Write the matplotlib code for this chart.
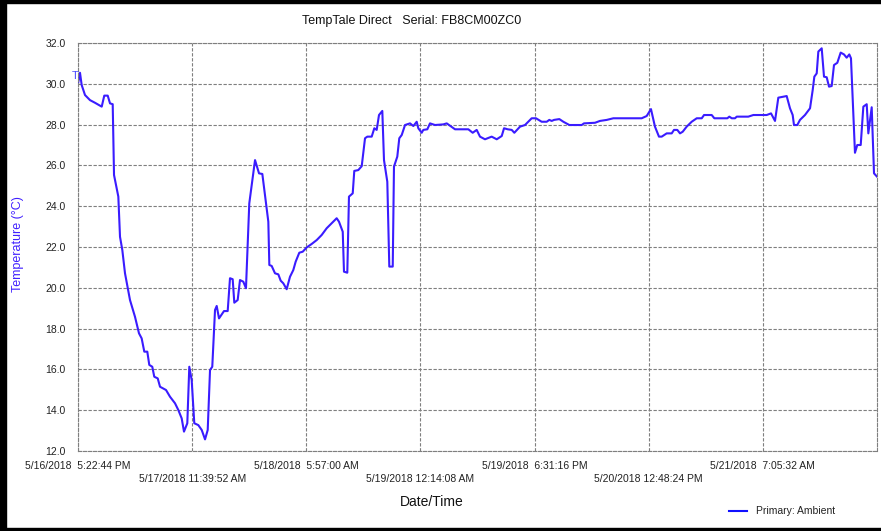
import matplotlib
matplotlib.use("Agg")
import matplotlib.pyplot as plt
import pandas as pd
from matplotlib.patches import Rectangle

plt.rcParams['font.family'] = ['Liberation Sans', 'DejaVu Sans']

# hours since the first reading (5/16/2018 5:22:44 PM)
hours = [0.0, 0.32, 0.59, 1.12, 1.92, 2.72, 3.80, 4.21, 4.76, 5.13, 5.56, 5.77, 6.46, 6.73,
         7.10, 7.53, 8.33, 9.13, 9.77, 10.20, 10.62, 11.10, 11.42, 11.90, 12.22, 12.77, 13.14,
         14.10, 14.74, 15.54, 16.07, 16.61, 16.98, 17.51, 17.83, 18.21, 18.63, 19.27, 19.82,
         20.35, 20.78, 21.15, 21.51, 21.95, 22.22, 22.59, 23.39, 23.98, 24.35, 24.78, 25.04,
         25.58, 25.95, 26.48, 26.91, 27.44, 28.36, 29.00, 29.53, 30.49, 30.65, 31.03, 31.56,
         32.09, 32.47, 32.89, 33.43, 33.96, 34.49, 34.87, 35.45, 36.00, 36.64, 37.44, 38.24,
         39.04, 39.84, 41.44, 41.81, 42.41, 42.61, 43.14, 43.41, 44.01, 44.26, 44.90, 45.45,
         45.98, 46.35, 47.05, 47.47, 47.85, 48.22, 48.75, 49.02, 49.55, 49.87, 50.42, 50.62,
         51.15, 51.47, 51.86, 52.39, 53.19, 53.72, 54.26, 54.52, 55.06, 55.32, 55.96, 56.39,
         57.19, 58.52, 59.07, 60.40, 62.53, 63.23, 63.87, 64.40, 65.20, 66.27, 67.08, 67.88,
         68.25, 68.84, 69.48, 69.90, 70.81, 71.61, 72.68, 73.37, 74.28, 75.09, 75.50, 75.89,
         76.26, 77.11, 77.75, 78.71, 80.69, 81.06, 82.82, 83.62, 84.70, 85.76, 90.30, 91.10,
         91.79, 92.43, 93.07, 93.51, 94.31, 95.11, 95.48, 96.01, 96.44, 96.87, 97.51, 98.31,
         99.12, 99.92, 100.29, 101.52, 101.94, 104.02, 104.34, 104.73, 105.25, 105.53, 107.38,
         108.19, 110.33, 111.02, 111.66, 112.19, 112.99, 113.53, 114.06, 114.49, 114.70,
         115.23, 115.66, 116.46, 117.27, 117.70, 117.96, 118.34, 118.60, 119.14, 119.51,
         119.94, 120.31, 120.74, 121.11, 121.64, 122.18, 122.71, 123.14, 123.56, 123.83,
         124.47, 124.84, 125.39, 125.81, 126.35, 126.61, 127.15, 127.52, 128.0]
temps = [30.0, 30.54, 29.94, 29.45, 29.2, 29.07, 28.88, 29.42, 29.42, 29.04, 29.0, 25.53, 24.47, 22.5,
         21.85, 20.71, 19.4, 18.58, 17.77, 17.52, 16.87, 16.87, 16.22, 16.13, 15.64, 15.56, 15.15,
         14.99, 14.66, 14.34, 14.01, 13.6, 12.95, 13.36, 16.13, 15.48, 13.36, 13.27, 13.03,
         12.57, 13.03, 15.97, 16.13, 18.91, 19.11, 18.5, 18.86, 18.86, 20.47, 20.42, 19.27,
         19.4, 20.38, 20.3, 19.98, 24.14, 26.26, 25.61, 25.58, 23.24, 21.12, 21.07, 20.71,
         20.66, 20.35, 20.22, 19.93, 20.54, 20.87, 21.28, 21.72, 21.77, 21.98, 22.15, 22.34,
         22.59, 22.92, 23.41, 23.24, 22.75, 20.79, 20.74, 24.47, 24.63, 25.73, 25.77, 25.96,
         27.33, 27.41, 27.41, 27.82, 27.74, 28.47, 28.67, 26.26, 25.2, 21.04, 21.04, 25.94,
         26.43, 27.33, 27.49, 27.98, 28.06, 27.93, 28.14, 27.82, 27.6, 27.74, 27.77, 28.06,
         27.98, 28.01, 28.06, 27.77, 27.77, 27.6, 27.74, 27.41, 27.28, 27.41, 27.28, 27.44,
         27.82, 27.77, 27.74, 27.6, 27.9, 27.98, 28.31, 28.31, 28.14, 28.14, 28.23, 28.18,
         28.23, 28.27, 28.14, 27.98, 27.98, 28.06, 28.09, 28.18, 28.23, 28.31, 28.31, 28.42,
         28.76, 27.9, 27.41, 27.41, 27.57, 27.57, 27.74, 27.74, 27.57, 27.65, 27.9, 28.14,
         28.31, 28.31, 28.47, 28.47, 28.31, 28.31, 28.39, 28.31, 28.31, 28.39, 28.39,
         28.47, 28.47, 28.55, 28.18, 29.32, 29.37, 29.4, 28.8, 28.47, 27.98,
         27.98, 28.23, 28.47, 28.8, 29.7, 30.35, 30.51, 31.58, 31.74, 30.35,
         30.32, 29.86, 29.89, 30.92, 31.03, 31.53, 31.44, 31.28, 31.44, 31.25,
         26.62, 27.0, 27.0, 28.88, 29.0, 27.57, 28.85, 25.61, 25.45]

start = pd.Timestamp("2018-05-16 17:22:44")
step = pd.Timedelta(hours=18, minutes=17, seconds=8)
n_steps = 7
title = "TempTale Direct   Serial: FB8CM00ZC0"
series_name = "Primary: Ambient"

times = [start + pd.Timedelta(hours=h) for h in hours]
ticks = [start + i * step for i in range(n_steps + 1)]


def fmt(t, i):
    hr = t.hour % 12 or 12
    ap = "AM" if t.hour < 12 else "PM"
    s = f"{t.month}/{t.day}/{t.year} {hr:>2}:{t.minute:02d}:{t.second:02d} {ap}"
    s = s.replace("  ", "  ")
    # every second label sits one row lower
    return s if i % 2 == 0 else "\n" + s


fig = plt.figure(figsize=(8.81, 5.31), dpi=100)
ax = fig.add_axes([78 / 881, 1 - 451 / 531, 799 / 881, 408 / 531])

line_col = '#3a1cff'
ax.plot(times, temps, color=line_col, lw=1.5, solid_joinstyle='round')

ax.set_xlim(ticks[0], ticks[-1])
ax.set_ylim(12, 32)
ax.set_yticks([12 + 2 * i for i in range(11)])
ax.yaxis.set_major_formatter(plt.FormatStrFormatter('%.1f'))
ax.set_xticks(ticks[:-1])
ax.set_xticklabels([fmt(t, i) for i, t in enumerate(ticks[:-1])], fontsize=7.5,
                   color='#222222', linespacing=1.35)
ax.tick_params(axis='y', labelsize=7.5, labelcolor='#222222', length=0, pad=9)
ax.tick_params(axis='x', length=0, pad=7)

ax.grid(True, color='#7f7f7f', ls=(0, (3, 1.5)), lw=0.8)
for sp in ax.spines.values():
    sp.set_color('#7f7f7f')
    sp.set_linestyle((0, (3, 1.5)))
    sp.set_linewidth(0.8)

ax.text(times[0], temps[0] + 0.15, "T", fontsize=8, color='#4a4aff', ha='right', va='bottom')

fig.text(412 / 881, 1 - 21 / 531, title, fontsize=9, ha='center', va='center', color='#111111')
fig.text(18 / 881, 1 - 244 / 531, "Temperature (°C)", fontsize=9, rotation=90,
         ha='center', va='center', color='#4020ff')
fig.text(432 / 881, 1 - 502 / 531, "Date/Time", fontsize=10, ha='center', va='center', color='#111111')

# legend at the bottom right
fig.add_artist(plt.Line2D([729 / 881, 747 / 881], [1 - 511 / 531] * 2, color='#1010ff', lw=1.5))
fig.text(756 / 881, 1 - 511 / 531, series_name, fontsize=7.5, ha='left', va='center', color='#222222')

# black frame of the screenshot
fig.add_artist(Rectangle((0, 0), 6 / 881, 1, transform=fig.transFigure, color='black'))
fig.add_artist(Rectangle((0, 1 - 3 / 531), 1, 3 / 531, transform=fig.transFigure, color='black'))
fig.add_artist(Rectangle((0, 0), 1, 3 / 531, transform=fig.transFigure, color='black'))

fig.savefig("out.png", dpi=100)
